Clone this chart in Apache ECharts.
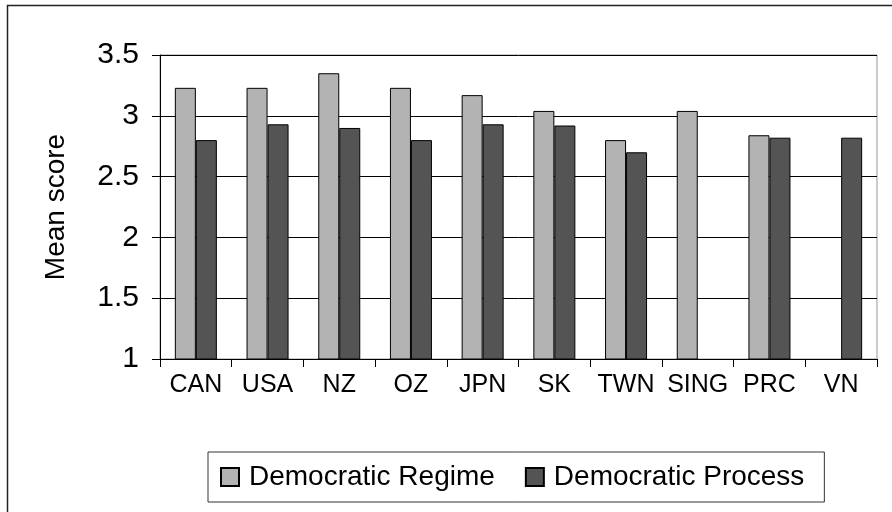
<!DOCTYPE html>
<html>
<head>
<meta charset="utf-8">
<script src="https://cdn.jsdelivr.net/npm/echarts@6/dist/echarts.min.js"></script>
<style>html,body{margin:0;padding:0;background:#fff}#c{width:892px;height:512px}</style>
</head>
<body>
<div id="c"></div>
<script>
const categories = ['CAN','USA','NZ','OZ','JPN','SK','TWN','SING','PRC','VN'];
const regimeValues = [3.23, 3.23, 3.35, 3.23, 3.17, 3.04, 2.80, 3.04, 2.84, null];
const processValues = [2.80, 2.93, 2.90, 2.80, 2.93, 2.92, 2.70, null, 2.82, 2.82];
const yTicks = {min: 1, max: 3.5, interval: 0.5};
const seriesNames = ['Democratic Regime', 'Democratic Process'];

const chart = echarts.init(document.getElementById('c'), null, {renderer: 'canvas'});
const font = 'Liberation Sans, Arial, sans-serif';
chart.setOption({
  animation: false,
  backgroundColor: '#fff',
  graphic: [{
    type: 'rect', left: 5, top: 3, silent: true,
    shape: {x: 0, y: 0, width: 900, height: 520},
    style: {fill: 'none', stroke: '#222', lineWidth: 1.5}
  }],
  grid: {left: 160, top: 55, right: 15, bottom: 153, show: true, borderColor: '#999', borderWidth: 1, backgroundColor: 'transparent'},
  xAxis: {
    type: 'category', data: categories,
    axisLine: {lineStyle: {color: '#000', width: 1}},
    axisTick: {show: true, length: 8, lineStyle: {color: '#000'}},
    axisLabel: {color: '#000', fontSize: 25, fontFamily: font, margin: 14, interval: 0}
  },
  yAxis: {
    type: 'value', min: yTicks.min, max: yTicks.max, interval: yTicks.interval,
    name: 'Mean score', nameLocation: 'middle', nameRotate: 90, nameGap: 90,
    nameTextStyle: {color: '#000', fontSize: 28, fontFamily: font},
    axisLine: {show: true, lineStyle: {color: '#000', width: 1}},
    axisTick: {show: true, length: 8, lineStyle: {color: '#000'}},
    axisLabel: {color: '#000', fontSize: 30, fontFamily: font, margin: 21},
    splitLine: {show: true, lineStyle: {color: '#000', width: 1}}
  },
  legend: {
    left: 208, top: 452, orient: 'horizontal',
    padding: [11, 20, 11, 12],
    borderColor: '#333', borderWidth: 1,
    itemWidth: 18, itemHeight: 18, itemGap: 30,
    icon: 'rect',
    textStyle: {color: '#000', fontSize: 28, fontFamily: font, padding: [0, 0, 0, 5]},
    data: seriesNames
  },
  series: [
    {name: seriesNames[0], type: 'bar', data: regimeValues, barWidth: 21, barGap: '0%',
     itemStyle: {color: '#b3b3b3', borderColor: '#000', borderWidth: 1}},
    {name: seriesNames[1], type: 'bar', data: processValues, barWidth: 21, barGap: '0%',
     itemStyle: {color: '#545454', borderColor: '#000', borderWidth: 1}}
  ]
});
</script>
</body>
</html>
